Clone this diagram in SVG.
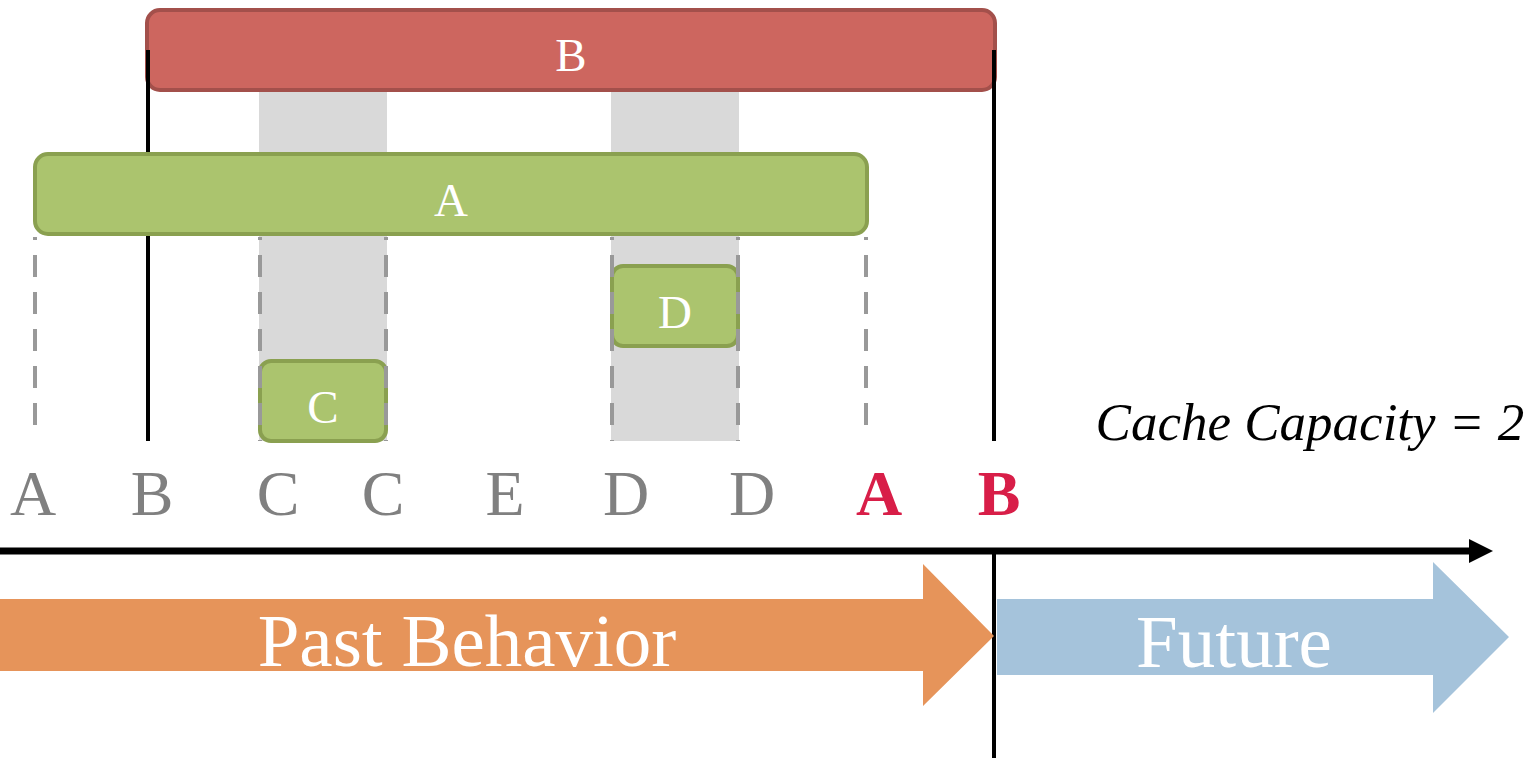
<svg xmlns="http://www.w3.org/2000/svg" width="1538" height="758" viewBox="0 0 1538 758">
<defs>
<style>
.band{fill:#d9d9d9}
.vl{stroke:#000;stroke-width:4;fill:none}
.dash{stroke:#999;stroke-width:4;stroke-dasharray:22,15;stroke-dashoffset:19;fill:none}
.g{fill:#abc46e;stroke:#8aa050;stroke-width:4}
.r{fill:#cd665f;stroke:#a3504b;stroke-width:4}
text{font-family:"Liberation Serif","Times New Roman",serif}
.lbl{fill:#fff;text-anchor:middle;font-size:47px}
.seq{fill:#808080;text-anchor:middle;font-size:64px}
.hot{fill:#d81e48;font-weight:bold}
.big{fill:#fff;text-anchor:middle;font-size:75px}
.cap{font-style:italic;font-size:53px;fill:#000;text-anchor:middle}
</style>
<marker id="ah" markerUnits="userSpaceOnUse" markerWidth="26" markerHeight="24" refX="0" refY="12" orient="auto"><path d="M0,0 L24,12 L0,24 Z" fill="#000"/></marker>
</defs>
<rect width="1538" height="758" fill="#fff"/>
<g id="bands">
<rect class="band" x="259" y="91" width="128" height="350"/>
<rect class="band" x="611" y="91" width="128" height="350"/>
</g>
<g id="nodeB"><rect class="r" x="147" y="10" width="848" height="80" rx="13"/><text class="lbl" x="571" y="71">B</text></g>
<g id="nodeA"><rect class="g" x="35" y="154" width="832" height="80" rx="13"/><text class="lbl" x="451" y="216">A</text></g>
<g id="nodeD"><rect class="g" x="612" y="266" width="126" height="80" rx="11"/><text class="lbl" x="675" y="328">D</text></g>
<g id="nodeC"><rect class="g" x="260" y="361" width="126" height="80" rx="11"/><text class="lbl" x="323" y="423">C</text></g>
<g id="connectors">
<line class="vl" x1="148" y1="50" x2="148" y2="152"/>
<line class="vl" x1="148" y1="236" x2="148" y2="441"/>
<line class="vl" x1="994" y1="50" x2="994" y2="441"/>
<line class="dash" x1="35" y1="237" x2="35" y2="425"/>
<line class="dash" x1="260" y1="237" x2="260" y2="441"/>
<line class="dash" x1="386" y1="237" x2="386" y2="441"/>
<line class="dash" x1="612" y1="237" x2="612" y2="441"/>
<line class="dash" x1="738" y1="237" x2="738" y2="441"/>
<line class="dash" x1="866" y1="237" x2="866" y2="425"/>
<line x1="0" y1="551" x2="1469" y2="551" stroke="#000" stroke-width="7" marker-end="url(#ah)"/>
<line class="vl" x1="994" y1="551" x2="994" y2="758" stroke-width="5"/>
</g>
<g id="capacity"><text class="cap" x="1310" y="440">Cache Capacity = 2</text></g>
<g id="sequence">
<text class="seq" x="33" y="515">A</text>
<text class="seq" x="152" y="515">B</text>
<text class="seq" x="278" y="515">C</text>
<text class="seq" x="383" y="515">C</text>
<text class="seq" x="505" y="515">E</text>
<text class="seq" x="626" y="515">D</text>
<text class="seq" x="752" y="515">D</text>
<text class="seq hot" x="879" y="515">A</text>
<text class="seq hot" x="999" y="515">B</text>
</g>
<g id="past"><path d="M0,599 L923,599 L923,564 L994,636 L923,706 L923,671 L0,671 Z" fill="#e6945a"/><text class="big" x="467" y="666">Past Behavior</text></g>
<g id="future"><path d="M997,599 L1433,599 L1433,562 L1509,637 L1433,713 L1433,675 L997,675 Z" fill="#a5c3db"/><text class="big" x="1234" y="667">Future</text></g>
</svg>
